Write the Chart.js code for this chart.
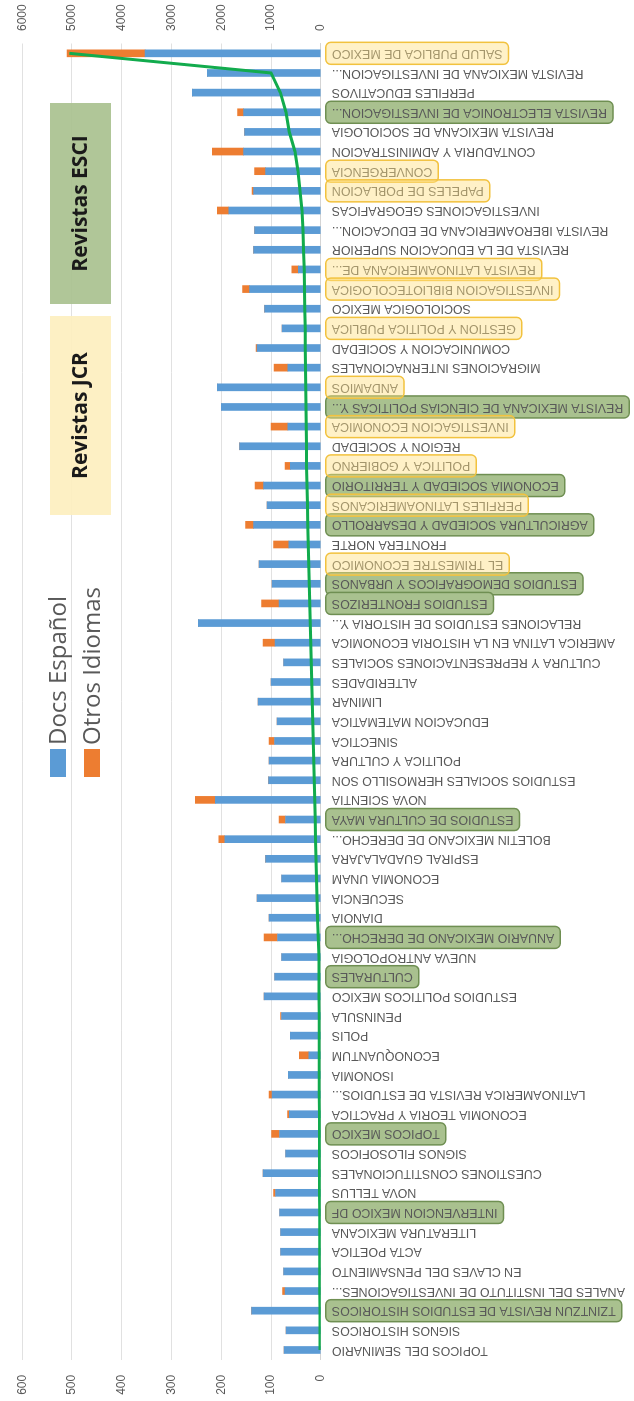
<!DOCTYPE html>
<html>
<head>
<meta charset="utf-8">
<script src="https://cdn.jsdelivr.net/npm/chart.js@4.4.1/dist/chart.umd.min.js"></script>
<style>
  html, body { margin: 0; padding: 0; overflow: hidden; background: #fff; width: 634px; height: 1401px; }
  /* chart is laid out landscape, then turned a quarter left to fit the portrait page */
  #wrap { position: absolute; left: 0; top: 0; width: 1401px; height: 634px;
          transform-origin: 0 0; transform: translate(0, 1401px) rotate(-90deg); }
</style>
</head>
<body>
<div id="wrap"><canvas id="c" width="1401" height="634"></canvas></div>
<script>
// ── Data (read top-to-bottom from the reference) ─────────────────────
const journals = [
  'SALUD PUBLICA DE MEXICO', 'REVISTA MEXICANA DE INVESTIGACION...', 'PERFILES EDUCATIVOS',
  'REVISTA ELECTRONICA DE INVESTIGACION...', 'REVISTA MEXICANA DE SOCIOLOGIA', 'CONTADURIA Y ADMINISTRACION',
  'CONVERGENCIA', 'PAPELES DE POBLACION', 'INVESTIGACIONES GEOGRAFICAS',
  'REVISTA IBEROAMERICANA DE EDUCACION...', 'REVISTA DE LA EDUCACION SUPERIOR', 'REVISTA LATINOAMERICANA DE...',
  'INVESTIGACION BIBLIOTECOLOGICA', 'SOCIOLOGICA MEXICO', 'GESTION Y POLITICA PUBLICA',
  'COMUNICACION Y SOCIEDAD', 'MIGRACIONES INTERNACIONALES', 'ANDAMIOS',
  'REVISTA MEXICANA DE CIENCIAS POLITICAS Y...', 'INVESTIGACION ECONOMICA', 'REGION Y SOCIEDAD',
  'POLITICA Y GOBIERNO', 'ECONOMIA SOCIEDAD Y TERRITORIO', 'PERFILES LATINOAMERICANOS',
  'AGRICULTURA SOCIEDAD Y DESARROLLO', 'FRONTERA NORTE', 'EL TRIMESTRE ECONOMICO',
  'ESTUDIOS DEMOGRAFICOS Y URBANOS', 'ESTUDIOS FRONTERIZOS', 'RELACIONES ESTUDIOS DE HISTORIA Y...',
  'AMERICA LATINA EN LA HISTORIA ECONOMICA', 'CULTURA Y REPRESENTACIONES SOCIALES', 'ALTERIDADES',
  'LIMINAR', 'EDUCACION MATEMATICA', 'SINECTICA',
  'POLITICA Y CULTURA', 'ESTUDIOS SOCIALES HERMOSILLO SON', 'NOVA SCIENTIA',
  'ESTUDIOS DE CULTURA MAYA', 'BOLETIN MEXICANO DE DERECHO...', 'ESPIRAL GUADALAJARA',
  'ECONOMIA UNAM', 'SECUENCIA', 'DIANOIA',
  'ANUARIO MEXICANO DE DERECHO...', 'NUEVA ANTROPOLOGIA', 'CULTURALES',
  'ESTUDIOS POLITICOS MEXICO', 'PENINSULA', 'POLIS',
  'ECONOQUANTUM', 'ISONOMIA', 'LATINOAMERICA REVISTA DE ESTUDIOS...',
  'ECONOMIA TEORIA Y PRACTICA', 'TOPICOS MEXICO', 'SIGNOS FILOSOFICOS',
  'CUESTIONES CONSTITUCIONALES', 'NOVA TELLUS', 'INTERVENCION MEXICO DF',
  'LITERATURA MEXICANA', 'ACTA POETICA', 'EN CLAVES DEL PENSAMIENTO',
  'ANALES DEL INSTITUTO DE INVESTIGACIONES...', 'TZINTZUN REVISTA DE ESTUDIOS HISTORICOS', 'SIGNOS HISTORICOS',
  'TOPICOS DEL SEMINARIO',
];

const docsEspanol = [
  353, 228, 258, 155, 153, 155, 111, 135, 185, 133, 135, 45, 143, 113, 78, 128, 66, 208,
  200, 66, 163, 61, 115, 108, 135, 64, 124, 98, 84, 246, 92, 75, 100, 126, 88, 93,
  104, 105, 212, 71, 193, 111, 79, 128, 104, 87, 79, 93, 114, 79, 61, 24, 65, 98,
  63, 83, 71, 116, 91, 83, 81, 81, 75, 72, 139, 70, 74,
];

const otrosIdiomas = [
  157, 0, 0, 12, 0, 63, 22, 3, 23, 0, 0, 13, 14, 0, 0, 2, 28, 0,
  0, 34, 0, 11, 17, 0, 16, 31, 0, 0, 35, 0, 24, 0, 0, 0, 0, 11,
  0, 0, 40, 13, 12, 0, 0, 0, 0, 27, 0, 0, 0, 2, 0, 19, 0, 6,
  4, 16, 0, 0, 4, 0, 0, 0, 0, 5, 0, 0, 0,
];

// green line, read on the right-hand axis
const curvaVerde = [
  5050, 1000, 813, 700, 633, 520, 460, 420, 380, 360, 347, 333, 327, 320, 313, 310, 307, 300,
  298, 293, 287, 285, 277, 268, 260, 250, 242, 233, 222, 212, 200, 192, 182, 173, 162, 152,
  140, 131, 122, 113, 104, 96, 87, 76, 65, 53, 38, 35, 34, 33, 32, 31, 30, 29,
  28, 27, 26, 25, 24, 23, 22, 21, 20, 19, 18, 17, 16,
];

const revistasJCR = [
  'SALUD PUBLICA DE MEXICO', 'CONVERGENCIA', 'PAPELES DE POBLACION', 'REVISTA LATINOAMERICANA DE...',
  'INVESTIGACION BIBLIOTECOLOGICA', 'GESTION Y POLITICA PUBLICA', 'ANDAMIOS', 'INVESTIGACION ECONOMICA',
  'POLITICA Y GOBIERNO', 'PERFILES LATINOAMERICANOS', 'EL TRIMESTRE ECONOMICO',
];
const revistasESCI = [
  'REVISTA ELECTRONICA DE INVESTIGACION...', 'REVISTA MEXICANA DE CIENCIAS POLITICAS Y...',
  'ECONOMIA SOCIEDAD Y TERRITORIO', 'AGRICULTURA SOCIEDAD Y DESARROLLO', 'ESTUDIOS DEMOGRAFICOS Y URBANOS',
  'ESTUDIOS FRONTERIZOS', 'ESTUDIOS DE CULTURA MAYA', 'ANUARIO MEXICANO DE DERECHO...', 'CULTURALES',
  'TOPICOS MEXICO', 'INTERVENCION MEXICO DF', 'TZINTZUN REVISTA DE ESTUDIOS HISTORICOS',
];

const seriesNames = ['Docs Español', 'Otros Idiomas'];
const leftTicks = [0, 100, 200, 300, 400, 500, 600];
const rightTicks = [0, 1000, 2000, 3000, 4000, 5000, 6000];

// ── Styling ──────────────────────────────────────────────────────────
const COLORS = {
  blue: '#5b9bd5',
  orange: '#ed7d31',
  green: '#12ab4d',
  text: '#595959',
  grid: '#e1e1e1',
  jcrFill: '#fdefbf',
  esciFill: '#a9c18f',
};
const SANS = '"Liberation Sans", Arial, sans-serif';
const LABEL_SIZE = 12.4;
const LABEL_FONT = `${LABEL_SIZE}px ${SANS}`;
const LABEL_PAD = 11;

function boxPath(ctx, x, y, w, h, r) {
  ctx.beginPath();
  ctx.moveTo(x + r, y);
  ctx.lineTo(x + w - r, y);
  ctx.arcTo(x + w, y, x + w, y + r, r);
  ctx.lineTo(x + w, y + h - r);
  ctx.arcTo(x + w, y + h, x + w - r, y + h, r);
  ctx.lineTo(x + r, y + h);
  ctx.arcTo(x, y + h, x, y + h - r, r);
  ctx.lineTo(x, y + r);
  ctx.arcTo(x, y, x + r, y, r);
  ctx.closePath();
}

// rounded highlight around a category label
function labelBox(chart, name, fill, stroke) {
  const { ctx, scales: { x } } = chart;
  const i = journals.indexOf(name);
  const cx = x.getPixelForValue(i);
  ctx.font = LABEL_FONT;
  const w = ctx.measureText(name).width;
  const top = x.top + LABEL_PAD - 6;
  boxPath(ctx, cx - 11, top, 22, w + 12, 5);
  ctx.fillStyle = fill;
  ctx.fill();
  ctx.lineWidth = 1.5;
  ctx.strokeStyle = stroke;
  ctx.stroke();
}

// ESCI boxes sit under the labels, JCR boxes are laid over them
const labelHighlights = {
  id: 'labelHighlights',
  beforeDraw(chart) {
    chart.ctx.save();
    revistasESCI.forEach(n => labelBox(chart, n, COLORS.esciFill, '#6f8f52'));
    chart.ctx.restore();
  },
  afterDraw(chart) {
    chart.ctx.save();
    revistasJCR.forEach(n => labelBox(chart, n, 'rgba(255,224,130,0.45)', '#f2c23e'));
    chart.ctx.restore();
  },
};

// "Revistas JCR / ESCI" tags and the legend, drawn inside the plot
const overlay = {
  id: 'overlay',
  beforeDatasetsDraw(chart) {
    const ctx = chart.ctx;
    ctx.save();
    ctx.globalAlpha = 0.92;
    const tags = [
      { text: 'Revistas JCR', x: 886, w: 199, fill: COLORS.jcrFill },
      { text: 'Revistas ESCI', x: 1097, w: 201, fill: COLORS.esciFill },
    ];
    for (const t of tags) {
      ctx.fillStyle = t.fill;
      ctx.fillRect(t.x, 50, t.w, 61);
    }
    ctx.globalAlpha = 1;
    ctx.fillStyle = '#1a1a1a';
    ctx.font = 'bold 21px "Open Sans", sans-serif';
    ctx.textAlign = 'center';
    ctx.textBaseline = 'middle';
    for (const t of tags) ctx.fillText(t.text, t.x + t.w / 2, 81);
    ctx.restore();
  },
  afterDraw(chart) {
    const ctx = chart.ctx;
    ctx.save();
    ctx.font = '24px "Open Sans", sans-serif';
    ctx.textBaseline = 'middle';
    ctx.textAlign = 'left';
    [COLORS.blue, COLORS.orange].forEach((c, k) => {
      const y = 50 + k * 34;
      ctx.fillStyle = c;
      ctx.fillRect(624, y, 28, 16);
      ctx.fillStyle = COLORS.text;
      ctx.fillText(seriesNames[k], 656, y + 9);
    });
    ctx.restore();
  },
};

const plainTick = (v) => String(v);

new Chart(document.getElementById('c'), {
  type: 'bar',
  data: {
    labels: journals,
    datasets: [
      { label: 'curva', type: 'line', data: curvaVerde, yAxisID: 'y1', order: 0,
        borderColor: COLORS.green, borderWidth: 3, pointRadius: 0, tension: 0, fill: false },
      { label: seriesNames[0], data: docsEspanol, backgroundColor: COLORS.blue, barThickness: 7, order: 1 },
      { label: seriesNames[1], data: otrosIdiomas, backgroundColor: COLORS.orange, barThickness: 7, order: 1 },
    ],
  },
  options: {
    responsive: false,
    animation: false,
    devicePixelRatio: 1,
    // the axis labels add ~6.7px on top of this, putting the 600 line at ~16px
    layout: { padding: { top: 9.3, left: 0, right: 0, bottom: 0 } },
    plugins: { legend: { display: false }, tooltip: { enabled: false } },
    scales: {
      x: {
        type: 'category',
        reverse: true,
        stacked: true,
        offset: true,
        grid: { display: false, drawTicks: false },
        border: { display: true, color: '#d4d4d4' },
        ticks: {
          autoSkip: false, minRotation: 90, maxRotation: 90, padding: LABEL_PAD,
          color: COLORS.text, font: { family: SANS, size: LABEL_SIZE },
        },
        afterFit: (s) => { s.height = 313.2; },
      },
      y: {
        stacked: true,
        position: 'left',
        min: leftTicks[0],
        max: leftTicks[leftTicks.length - 1],
        afterBuildTicks: (s) => { s.ticks = leftTicks.map(v => ({ value: v })); },
        grid: { color: COLORS.grid, drawTicks: false },
        border: { display: false },
        ticks: { padding: 15, color: COLORS.text, font: { family: SANS, size: 12 }, callback: plainTick },
        afterFit: (s) => { s.width = 41.2; },
      },
      y1: {
        position: 'right',
        stacked: false,
        min: rightTicks[0],
        max: rightTicks[rightTicks.length - 1],
        afterBuildTicks: (s) => { s.ticks = rightTicks.map(v => ({ value: v })); },
        grid: { display: false, drawTicks: false },
        border: { display: false },
        ticks: { padding: 12.5, color: COLORS.text, font: { family: SANS, size: 12 }, callback: plainTick },
        afterFit: (s) => { s.width = 43.5; },
      },
    },
  },
  plugins: [labelHighlights, overlay],
});
</script>
</body>
</html>
